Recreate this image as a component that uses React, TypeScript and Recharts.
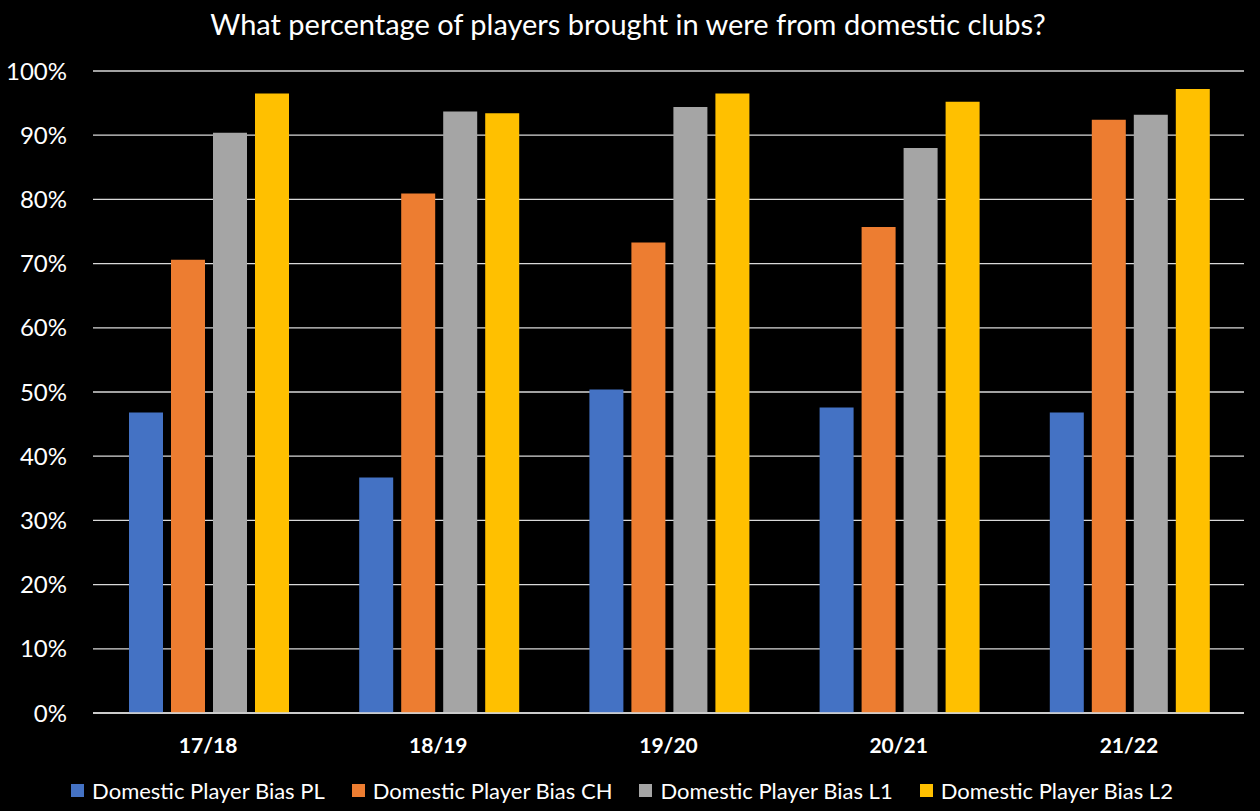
import { BarChart, Bar, XAxis, YAxis, CartesianGrid, Legend } from 'recharts';

const seasons = ['17/18', '18/19', '19/20', '20/21', '21/22'];
const biasPL = [46.8, 36.7, 50.4, 47.6, 46.8];
const biasCH = [70.6, 80.9, 73.3, 75.7, 92.4];
const biasL1 = [90.4, 93.7, 94.4, 88.0, 93.2];
const biasL2 = [96.5, 93.4, 96.5, 95.2, 97.2];
const yTicks = [0, 10, 20, 30, 40, 50, 60, 70, 80, 90, 100];

const series = [
  { key: 'pl', name: 'Domestic Player Bias PL', color: '#4472c4' },
  { key: 'ch', name: 'Domestic Player Bias CH', color: '#ed7d31' },
  { key: 'l1', name: 'Domestic Player Bias L1', color: '#a5a5a5' },
  { key: 'l2', name: 'Domestic Player Bias L2', color: '#ffc000' },
];

const font = 'Lato, "Open Sans", sans-serif';

export default function App() {
  // one row per season for recharts
  const data = seasons.map((s, i) => ({
    season: s, pl: biasPL[i], ch: biasCH[i], l1: biasL1[i], l2: biasL2[i],
  }));

  return (
    <div style={{ position: 'absolute', left: 0, top: 0, width: 1260, height: 811, background: '#000', fontFamily: font }}>
      <div style={{ position: 'absolute', top: 6, left: 0, width: 1256, textAlign: 'center', color: '#fff', fontSize: 29, lineHeight: '36px' }}>
        What percentage of players brought in were from domestic clubs?
      </div>
      <BarChart
        width={1260}
        height={811}
        data={data}
        margin={{ top: 71, right: 16, left: 0, bottom: 0 }}
        barCategoryGap={36}
        barGap={8}
      >
        <CartesianGrid vertical={false} stroke="#d9d9d9" strokeWidth={1.3} />
        <XAxis
          dataKey="season"
          height={50}
          tickLine={false}
          tickSize={0}
          tickMargin={25}
          axisLine={{ stroke: '#d9d9d9', strokeWidth: 1.3 }}
          tick={{ fill: '#fff', fontSize: 21, fontWeight: 700, fontFamily: font }}
        />
        <YAxis
          width={93}
          domain={[0, 100]}
          ticks={yTicks}
          tickFormatter={(v) => `${v}%`}
          axisLine={false}
          tickLine={false}
          tickSize={0}
          tickMargin={26}
          tick={{ fill: '#fff', fontSize: 24, fontFamily: font }}
        />
        <Legend verticalAlign="bottom" content={() => <LegendRow />} />
        {series.map((s) => (
          <Bar key={s.key} dataKey={s.key} name={s.name} fill={s.color} isAnimationActive={false} />
        ))}
      </BarChart>
    </div>
  );
}

function LegendRow() {
  return (
    <div style={{ height: 48, paddingTop: 6, boxSizing: 'border-box', display: 'flex', alignItems: 'center', justifyContent: 'center', gap: 27, color: '#fff', fontSize: 22, fontFamily: font }}>
      {series.map((s) => (
        <div key={s.key} style={{ display: 'flex', alignItems: 'center' }}>
          <span style={{ display: 'inline-block', width: 13, height: 13, background: s.color, marginRight: 8 }} />
          <span>{s.name}</span>
        </div>
      ))}
    </div>
  );
}
